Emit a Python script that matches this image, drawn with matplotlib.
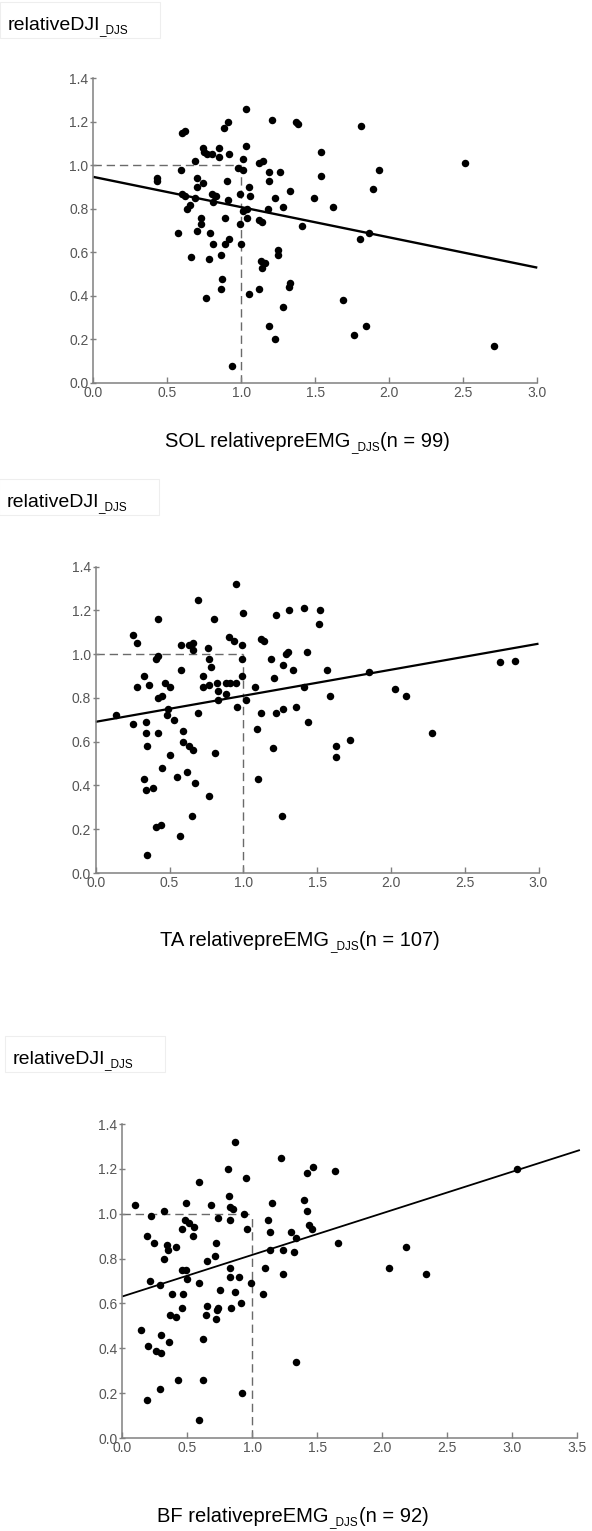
import matplotlib
matplotlib.use("Agg")
import matplotlib.pyplot as plt
import numpy as np
from matplotlib.patches import Rectangle

plt.rcParams["font.family"] = ["Liberation Sans", "DejaVu Sans"]

# ---------------- data ----------------
sol_x = [0.43, 0.43, 0.59, 0.60, 0.62, 0.57, 0.60, 0.62, 0.66, 0.65, 0.63, 0.69, 0.70, 0.70,
         0.74, 0.69, 0.73, 0.73, 0.70, 0.79, 0.81, 0.76, 0.78, 0.74, 0.75, 0.77, 0.80, 0.85,
         0.85, 0.88, 0.91, 0.92, 0.80, 0.82, 0.83, 0.81, 0.90, 0.91, 0.89, 0.86, 0.87, 0.86,
         0.89, 0.92, 0.94, 1.03, 1.03, 1.01, 0.98, 1.01, 0.99, 1.01, 1.04, 0.99, 1.04, 1.00,
         1.05, 1.05, 1.06, 1.12, 1.15, 1.19, 1.19, 1.26, 1.23, 1.28, 1.33, 1.18, 1.12, 1.14,
         1.13, 1.16, 1.14, 1.25, 1.25, 1.12, 1.32, 1.33, 1.28, 1.19, 1.23, 1.21, 1.37, 1.38,
         1.81, 1.54, 1.54, 1.93, 2.51, 1.49, 1.62, 1.89, 1.41, 1.80, 1.86, 1.69, 1.84, 1.76,
         2.71]
sol_y = [0.94, 0.93, 0.98, 1.15, 1.16, 0.69, 0.87, 0.86, 0.58, 0.82, 0.80, 1.02, 0.94, 0.90,
         0.92, 0.85, 0.76, 0.73, 0.70, 0.69, 0.64, 0.39, 0.57, 1.08, 1.06, 1.05, 1.05, 1.08,
         1.04, 1.17, 1.20, 1.05, 0.87, 0.86, 0.86, 0.83, 0.93, 0.84, 0.76, 0.59, 0.48, 0.43,
         0.64, 0.66, 0.08, 1.26, 1.09, 1.03, 0.99, 0.98, 0.87, 0.79, 0.80, 0.73, 0.76, 0.64,
         0.41, 0.90, 0.86, 1.01, 1.02, 0.97, 0.93, 0.97, 0.85, 0.81, 0.88, 0.80, 0.75, 0.74,
         0.56, 0.55, 0.53, 0.61, 0.59, 0.43, 0.44, 0.46, 0.35, 0.26, 0.20, 1.21, 1.20, 1.19,
         1.18, 1.06, 0.95, 0.98, 1.01, 0.85, 0.81, 0.89, 0.72, 0.66, 0.69, 0.38, 0.26, 0.22,
         0.17]

ta_x = [0.14, 0.25, 0.28, 0.28, 0.25, 0.33, 0.36, 0.34, 0.34, 0.35, 0.33, 0.34, 0.39, 0.35,
        0.41, 0.44, 0.41, 0.42, 0.42, 0.42, 0.47, 0.50, 0.42, 0.45, 0.48, 0.49, 0.53, 0.50,
        0.45, 0.55, 0.57, 0.65, 0.62, 0.67, 0.59, 0.59, 0.63, 0.66, 0.58, 0.58, 0.63, 0.66,
        0.66, 0.69, 0.69, 0.73, 0.73, 0.76, 0.77, 0.78, 0.77, 0.77, 0.80, 0.82, 0.83, 0.83,
        0.81, 0.88, 0.88, 0.91, 0.95, 0.90, 0.94, 0.95, 0.96, 0.99, 0.99, 0.99, 1.00, 1.02,
        1.08, 1.09, 1.10, 1.12, 1.12, 1.14, 1.19, 1.21, 1.22, 1.20, 1.22, 1.26, 1.27, 1.27,
        1.29, 1.30, 1.31, 1.34, 1.36, 1.41, 1.52, 1.51, 1.43, 1.57, 1.41, 1.85, 1.59, 1.44,
        2.03, 2.10, 2.28, 1.63, 1.63, 1.72, 2.74, 2.84]
ta_y = [0.72, 1.09, 1.05, 0.85, 0.68, 0.90, 0.86, 0.69, 0.64, 0.58, 0.43, 0.38, 0.39, 0.08,
        0.21, 0.22, 0.98, 0.99, 1.16, 0.64, 0.87, 0.85, 0.80, 0.81, 0.72, 0.75, 0.70, 0.54,
        0.48, 0.44, 0.17, 0.26, 0.46, 0.41, 0.65, 0.60, 0.58, 0.56, 1.04, 0.93, 1.04, 1.05,
        1.02, 0.73, 1.25, 0.90, 0.85, 1.03, 0.98, 0.94, 0.86, 0.35, 1.16, 0.87, 0.83, 0.79,
        0.55, 0.82, 0.87, 0.87, 0.87, 1.08, 1.06, 1.32, 0.76, 0.90, 1.04, 0.98, 1.19, 0.79,
        0.85, 0.66, 0.43, 0.73, 1.07, 1.06, 0.98, 0.89, 0.73, 0.57, 1.18, 0.26, 0.75, 0.95,
        1.00, 1.01, 1.20, 0.93, 0.76, 1.21, 1.20, 1.14, 1.01, 0.93, 0.85, 0.92, 0.81, 0.69,
        0.84, 0.81, 0.64, 0.58, 0.53, 0.61, 0.965, 0.97]

bf_x = [0.10, 0.19, 0.22, 0.24, 0.21, 0.14, 0.20, 0.26, 0.30, 0.30, 0.36, 0.29, 0.32, 0.32,
        0.34, 0.35, 0.41, 0.38, 0.37, 0.41, 0.46, 0.47, 0.46, 0.49, 0.48, 0.51, 0.55, 0.54,
        0.46, 0.49, 0.50, 0.59, 0.59, 0.62, 0.65, 0.65, 0.64, 0.71, 0.72, 0.72, 0.74, 0.73,
        0.68, 0.74, 0.75, 0.81, 0.82, 0.83, 0.85, 0.83, 0.87, 0.83, 0.83, 0.84, 0.87, 0.90,
        0.91, 0.95, 0.94, 0.96, 0.99, 1.08, 1.10, 1.12, 1.14, 1.15, 1.14, 1.22, 1.24, 1.24,
        1.30, 1.32, 1.34, 1.34, 1.42, 1.47, 1.64, 1.40, 1.42, 1.44, 1.46, 1.66, 2.18, 2.05,
        2.34, 3.04, 0.43, 0.62, 0.29, 0.19, 0.92, 0.59]
bf_y = [1.04, 0.90, 0.99, 0.87, 0.70, 0.48, 0.41, 0.39, 0.38, 0.46, 0.43, 0.68, 1.01, 0.80,
        0.86, 0.84, 0.85, 0.64, 0.55, 0.54, 0.58, 0.64, 0.93, 1.05, 0.97, 0.96, 0.94, 0.90,
        0.75, 0.75, 0.71, 1.14, 0.69, 0.44, 0.79, 0.59, 0.55, 0.81, 0.87, 0.53, 0.58, 0.57,
        1.04, 0.98, 0.66, 1.20, 1.08, 1.03, 1.02, 0.97, 1.32, 0.76, 0.72, 0.58, 0.65, 0.72,
        0.60, 1.16, 1.00, 0.93, 0.69, 0.64, 0.76, 0.97, 0.92, 1.05, 0.84, 1.25, 0.84, 0.73,
        0.92, 0.83, 0.89, 0.34, 1.18, 1.21, 1.19, 1.06, 1.01, 0.95, 0.93, 0.87, 0.85, 0.76,
        0.73, 1.20, 0.26, 0.26, 0.22, 0.17, 0.20, 0.08]

# regression lines: (intercept, slope)
sol_fit = (0.947, -0.139)
ta_fit = (0.691, 0.119)
bf_fit = (0.631, 0.1855)

y_ticks = [0.0, 0.2, 0.4, 0.6, 0.8, 1.0, 1.2, 1.4]
x_ticks_3 = [0.0, 0.5, 1.0, 1.5, 2.0, 2.5, 3.0]
x_ticks_35 = [0.0, 0.5, 1.0, 1.5, 2.0, 2.5, 3.0, 3.5]

muscles = ["SOL", "TA", "BF"]
counts = [99, 107, 92]

# ---------------- layout ----------------
W, H = 592, 1531
fig = plt.figure(figsize=(W / 100, H / 100), dpi=100)
fig.patch.set_facecolor("white")


def fx(px):
    return px / W


def fy(py):
    return 1 - py / H


panels = [
    dict(x=sol_x, y=sol_y, fit=sol_fit, xmax=3.0, xticks=x_ticks_3, fit_end=3.0,
         box=(93.3, 78.3, 537.3, 383.0), lw=1.7,
         ylab=(8, 30), xlab=(165, 447)),
    dict(x=ta_x, y=ta_y, fit=ta_fit, xmax=3.0, xticks=x_ticks_3, fit_end=3.0,
         box=(95.7, 566.7, 538.5, 873.0), lw=1.6,
         ylab=(7, 507), xlab=(160, 946)),
    dict(x=bf_x, y=bf_y, fit=bf_fit, xmax=3.5, xticks=x_ticks_35, fit_end=3.52,
         box=(122.3, 1124.0, 577.3, 1438.0), lw=1.3,
         ylab=(13, 1064), xlab=(157, 1522)),
]

axis_gray = "#808080"
label_gray = "#555555"
dash_gray = "#6a6a6a"


def sub_label(x, y, main, sub, tail="", size=14, sub_size=8.5, gap=0.5):
    t = fig.text(fx(x), fy(y), main, fontsize=size, va="baseline", ha="left",
                 color="black")
    s = plt.annotate(sub, xy=(1, 0), xycoords=t, xytext=(gap, 0.8),
                     textcoords="offset points", fontsize=sub_size,
                     va="baseline", ha="left", color="black",
                     annotation_clip=False)
    if tail:
        plt.annotate(tail, xy=(1, 0), xycoords=(s, t), xytext=(0.5, 0),
                     textcoords="offset points", fontsize=size,
                     va="bottom", ha="left", color="black",
                     annotation_clip=False)
    return t


for i, p in enumerate(panels):
    l, t, r, b = p["box"]
    ax = fig.add_axes([fx(l), fy(b), (r - l) / W, (b - t) / H])
    ax.set_facecolor("none")
    ax.set_xlim(0, p["xmax"])
    ax.set_ylim(0, 1.4)

    # reference dashed box at (1, 1)
    ax.plot([0, 1], [1, 1], color=dash_gray, lw=1.0, ls=(0, (6, 3.5)), zorder=1)
    ax.plot([1, 1], [0, 1], color=dash_gray, lw=1.0, ls=(0, (6, 3.5)), zorder=1)

    # regression line
    b0, b1 = p["fit"]
    xs = np.array([0.0, p["fit_end"]])
    ax.plot(xs, b0 + b1 * xs, color="black", lw=p["lw"], zorder=2,
            clip_on=False, solid_capstyle="butt")

    # observations
    ax.plot(p["x"], p["y"], "o", color="black", ms=5.4, mew=0, zorder=3,
            clip_on=False)

    for side in ("top", "right"):
        ax.spines[side].set_visible(False)
    for side in ("left", "bottom"):
        ax.spines[side].set_color(axis_gray)
        ax.spines[side].set_linewidth(1.1)

    ax.set_xticks(p["xticks"])
    ax.set_xticklabels([f"{v:.1f}" for v in p["xticks"]])
    ax.set_yticks(y_ticks)
    ax.set_yticklabels([f"{v:.1f}" for v in y_ticks])
    ax.tick_params(axis="x", direction="in", length=4, width=1.0,
                   color=axis_gray, labelcolor=label_gray, labelsize=10, pad=2.5)
    ax.tick_params(axis="y", direction="inout", length=5, width=1.0,
                   color=axis_gray, labelcolor=label_gray, labelsize=10, pad=1.0)

    # axis titles
    sub_label(p["ylab"][0], p["ylab"][1], "relativeDJI", "_DJS", size=14, gap=-1.2)
    sub_label(p["xlab"][0], p["xlab"][1], f"{muscles[i]} relativepreEMG", "_DJS",
              tail=f"(n = {counts[i]})", size=14.5)

    # faint frame around the y title
    bx0, by0 = p["ylab"][0] - 8, p["ylab"][1] - 28
    fig.add_artist(Rectangle((fx(bx0), fy(by0 + 36)), 160 / W, 36 / H,
                             transform=fig.transFigure, fill=False,
                             edgecolor="#eeeeee", lw=0.8))

fig.savefig("out.png", dpi=100, facecolor="white")
